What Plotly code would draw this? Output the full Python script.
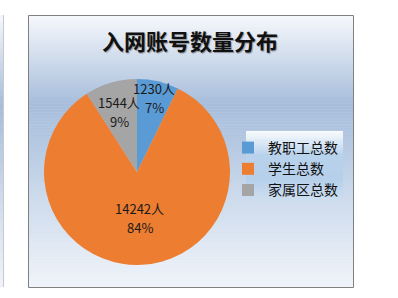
import math
import plotly.graph_objects as go

categories = ["教职工总数", "学生总数", "家属区总数"]
values = [1230, 14242, 1544]
unit = "人"
colors = ["#5B9BD5", "#ED7D31", "#A5A5A5"]
label_radius = [0.82, 0.50, 0.67]
title_text = "入网账号数量分布"

W, H = 398, 298
FONT = "Noto Sans CJK SC, Noto Sans, sans-serif"

def px(x):
    return x / W

def py(y):
    return 1 - y / H

# pie geometry in pixels
cx, cy, R = 137, 172, 93
dom_x = [px(cx - R), px(cx + R)]
dom_y = [py(cy + R), py(cy - R)]

fig = go.Figure()
fig.add_trace(go.Pie(
    labels=categories, values=values, sort=False, direction="clockwise",
    rotation=0, marker=dict(colors=colors, line=dict(width=0)),
    textinfo="none", hoverinfo="label+value+percent",
    domain=dict(x=dom_x, y=dom_y), showlegend=True,
))

shapes = []

def lerp(c1, c2, t):
    return tuple(int(round(a + (b - a) * t)) for a, b in zip(c1, c2))

def vgrad(x0, x1, y0, y1, stops, n=80):
    out = []
    step = (y1 - y0) / n
    for i in range(n):
        ya = y0 + i * step
        t = (i + 0.5) / n
        for j in range(len(stops) - 1):
            if stops[j][0] <= t <= stops[j + 1][0]:
                tt = (t - stops[j][0]) / (stops[j + 1][0] - stops[j][0])
                c = lerp(stops[j][1], stops[j + 1][1], tt)
                break
        out.append(dict(type="rect", xref="paper", yref="paper", layer="below",
                        x0=px(x0), x1=px(x1), y0=py(ya + step + 0.5), y1=py(ya),
                        fillcolor="rgb(%d,%d,%d)" % c, line=dict(width=0)))
    return out

bg_stops = [(0.0, (246, 248, 252)), (0.33, (166, 189, 219)), (0.7, (208, 221, 237)), (1.0, (240, 244, 250))]
shapes += vgrad(0, 3, 15, 287, bg_stops, n=40)
shapes += vgrad(28.5, 353.5, 15.5, 287.5, bg_stops, n=90)
# legend background
leg_stops = [(0.0, (250, 252, 254)), (0.35, (185, 210, 236)), (0.7, (182, 207, 234)), (1.0, (205, 222, 240))]
shapes += vgrad(246, 343, 131, 200, leg_stops, n=30)
shapes.append(dict(type="rect", xref="paper", yref="paper", layer="below",
                   x0=px(28.5), x1=px(353.5), y0=py(287.5), y1=py(15.5),
                   line=dict(color="#808080", width=1), fillcolor="rgba(0,0,0,0)"))
shapes.append(dict(type="line", xref="paper", yref="paper", layer="below",
                   x0=px(3.5), x1=px(3.5), y0=py(287), y1=py(15),
                   line=dict(color="#c9c9c9", width=1)))

# labels inside slices (value line and percent line)
total = sum(values)
annotations = []
cum = 0
for v, rf in zip(values, label_radius):
    mid = (cum + v / 2) / total * 2 * math.pi
    cum += v
    lx = cx + rf * R * math.sin(mid)
    ly = cy - rf * R * math.cos(mid)
    pct = round(v / total * 100)
    for txt, dy in (("%d%s" % (v, unit), -9.5), ("%d%%" % pct, 9.5)):
        annotations.append(dict(
            x=px(lx), y=py(ly + dy), xref="paper", yref="paper", showarrow=False,
            xanchor="center", yanchor="middle", text=txt,
            font=dict(family=FONT, size=13, color="#1a1a1a"),
        ))

annotations.append(dict(
    x=px(190), y=py(40), xref="paper", yref="paper", showarrow=False,
    xanchor="center", yanchor="middle",
    text="<b>%s</b>" % title_text,
    font=dict(family=FONT, size=22, color="#111111", shadow="1px 1px 1px rgba(0,0,0,0.35)"),
))

fig.update_layout(
    width=W, height=H, margin=dict(l=0, r=0, t=0, b=0),
    paper_bgcolor="white", plot_bgcolor="white",
    shapes=shapes, annotations=annotations,
    legend=dict(x=px(228), y=py(132), xanchor="left", yanchor="top",
                bgcolor="rgba(0,0,0,0)", font=dict(family=FONT, size=14, color="#111111"),
                itemwidth=30, tracegroupgap=0),
)

fig.write_html("out.html")
